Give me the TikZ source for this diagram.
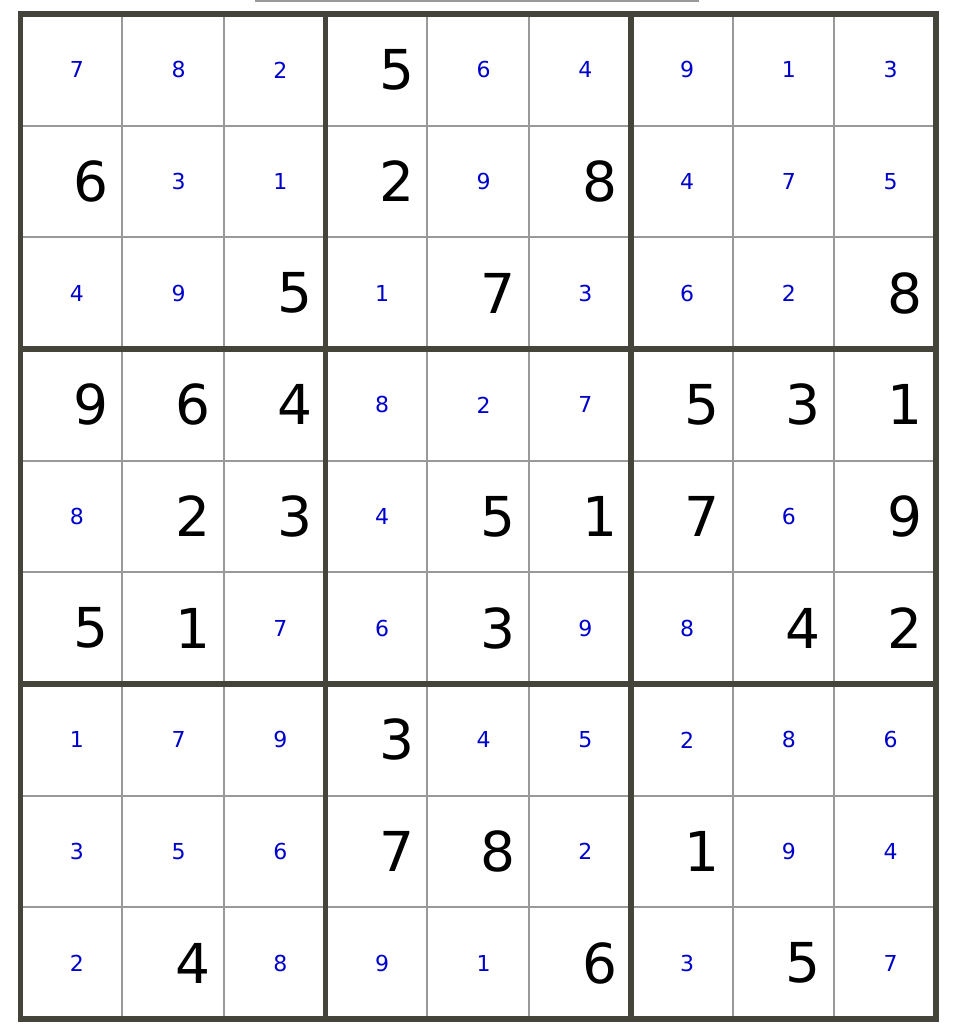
\documentclass[tikz,border=0pt]{standalone}
\usepackage{fontspec}
\setmainfont{DejaVu Sans}
\usetikzlibrary{positioning}

\definecolor{boxline}{RGB}{68,68,58}
\definecolor{cellline}{RGB}{153,153,153}
\definecolor{fillblue}{RGB}{0,0,205}

\begin{document}
\begin{tikzpicture}[
    x=1pt, y=-1pt,
    % Styles for the two kinds of digits
    given/.style={inner sep=0pt, xshift=20pt, font=\fontsize{55}{60}\selectfont, text=black},
    solved/.style={inner sep=0pt, xshift=5.5pt, font=\fontsize{22}{26}\selectfont, text=fillblue},
    thinline/.style={cellline, line width=2pt},
    thickline/.style={boxline, line width=5.5pt, line cap=rect}
]
\useasboundingbox (0,0) rectangle (955,1026);

% Strip left over above the grid
\draw[cellline, line width=1.5pt] (255,0.75) -- (699,0.75);

% Cell lines
\foreach \i in {1,2,4,5,7,8} {
  \draw[thinline] (20.5+\i*101.72,14) -- (20.5+\i*101.72,1019);
  \draw[thinline] (20.5,14+\i*111.67) -- (936,14+\i*111.67);
}

% Box lines
\foreach \i in {0,3,6,9} {
  \draw[thickline] (20.5+\i*101.72,14) -- (20.5+\i*101.72,1019);
  \draw[thickline] (20.5,14+\i*111.67) -- (936,14+\i*111.67);
}

% Row 1
\foreach \d/\k [count=\c] in {7/solved,8/solved,2/solved,5/given,6/solved,4/solved,9/solved,1/solved,3/solved}
  \node[\k] (r1c\c) at (20.5+\c*101.72-50.86,14+0.5*111.67) {\d};
% Row 2
\foreach \d/\k [count=\c] in {6/given,3/solved,1/solved,2/given,9/solved,8/given,4/solved,7/solved,5/solved}
  \node[\k] (r2c\c) at (20.5+\c*101.72-50.86,14+1.5*111.67) {\d};
% Row 3
\foreach \d/\k [count=\c] in {4/solved,9/solved,5/given,1/solved,7/given,3/solved,6/solved,2/solved,8/given}
  \node[\k] (r3c\c) at (20.5+\c*101.72-50.86,14+2.5*111.67) {\d};
% Row 4
\foreach \d/\k [count=\c] in {9/given,6/given,4/given,8/solved,2/solved,7/solved,5/given,3/given,1/given}
  \node[\k] (r4c\c) at (20.5+\c*101.72-50.86,14+3.5*111.67) {\d};
% Row 5
\foreach \d/\k [count=\c] in {8/solved,2/given,3/given,4/solved,5/given,1/given,7/given,6/solved,9/given}
  \node[\k] (r5c\c) at (20.5+\c*101.72-50.86,14+4.5*111.67) {\d};
% Row 6
\foreach \d/\k [count=\c] in {5/given,1/given,7/solved,6/solved,3/given,9/solved,8/solved,4/given,2/given}
  \node[\k] (r6c\c) at (20.5+\c*101.72-50.86,14+5.5*111.67) {\d};
% Row 7
\foreach \d/\k [count=\c] in {1/solved,7/solved,9/solved,3/given,4/solved,5/solved,2/solved,8/solved,6/solved}
  \node[\k] (r7c\c) at (20.5+\c*101.72-50.86,14+6.5*111.67) {\d};
% Row 8
\foreach \d/\k [count=\c] in {3/solved,5/solved,6/solved,7/given,8/given,2/solved,1/given,9/solved,4/solved}
  \node[\k] (r8c\c) at (20.5+\c*101.72-50.86,14+7.5*111.67) {\d};
% Row 9
\foreach \d/\k [count=\c] in {2/solved,4/given,8/solved,9/solved,1/solved,6/given,3/solved,5/given,7/solved}
  \node[\k] (r9c\c) at (20.5+\c*101.72-50.86,14+8.5*111.67) {\d};

\end{tikzpicture}
\end{document}
